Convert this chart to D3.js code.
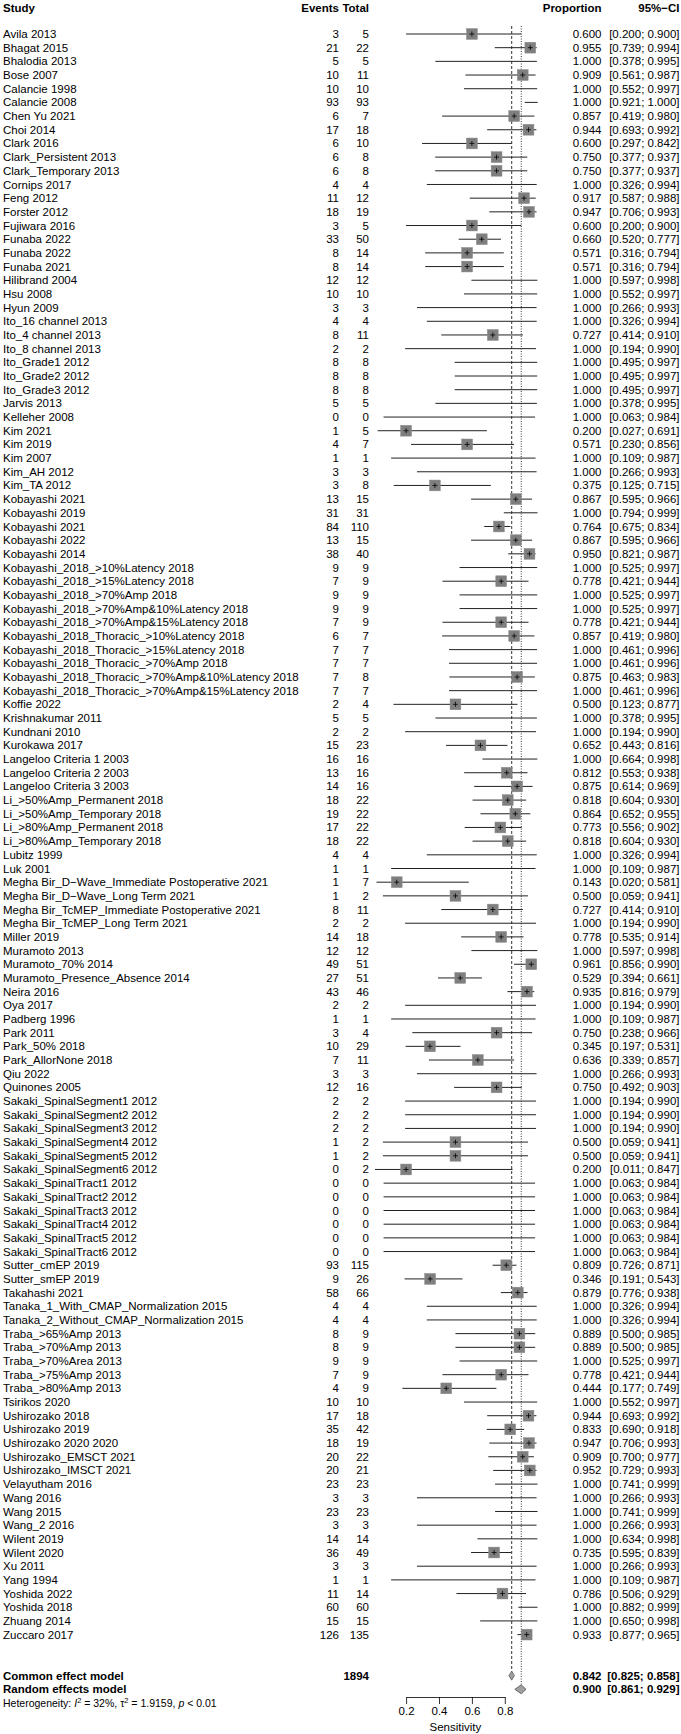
<!DOCTYPE html>
<html><head><meta charset="utf-8">
<script src="https://cdn.jsdelivr.net/npm/d3@7"></script>
<style>
body{margin:0;background:#fff;}
svg text{font-family:"Liberation Sans",Arial,Helvetica,sans-serif;}
</style></head><body>
<svg id="chart" width="681" height="1734"></svg>
<script>
const studies = ["Avila 2013","Bhagat 2015","Bhalodia 2013","Bose 2007","Calancie 1998","Calancie 2008","Chen Yu 2021","Choi 2014","Clark 2016","Clark_Persistent 2013","Clark_Temporary 2013","Cornips 2017","Feng 2012","Forster 2012","Fujiwara 2016","Funaba 2022","Funaba 2022","Funaba 2021","Hilibrand 2004","Hsu 2008","Hyun 2009","Ito_16 channel 2013","Ito_4 channel 2013","Ito_8 channel 2013","Ito_Grade1 2012","Ito_Grade2 2012","Ito_Grade3 2012","Jarvis 2013","Kelleher 2008","Kim 2021","Kim 2019","Kim 2007","Kim_AH 2012","Kim_TA 2012","Kobayashi 2021","Kobayashi 2019","Kobayashi 2021","Kobayashi 2022","Kobayashi 2014","Kobayashi_2018_>10%Latency 2018","Kobayashi_2018_>15%Latency 2018","Kobayashi_2018_>70%Amp 2018","Kobayashi_2018_>70%Amp&10%Latency 2018","Kobayashi_2018_>70%Amp&15%Latency 2018","Kobayashi_2018_Thoracic_>10%Latency 2018","Kobayashi_2018_Thoracic_>15%Latency 2018","Kobayashi_2018_Thoracic_>70%Amp 2018","Kobayashi_2018_Thoracic_>70%Amp&10%Latency 2018","Kobayashi_2018_Thoracic_>70%Amp&15%Latency 2018","Koffie 2022","Krishnakumar 2011","Kundnani 2010","Kurokawa 2017","Langeloo Criteria 1 2003","Langeloo Criteria 2 2003","Langeloo Criteria 3 2003","Li_>50%Amp_Permanent 2018","Li_>50%Amp_Temporary 2018","Li_>80%Amp_Permanent 2018","Li_>80%Amp_Temporary 2018","Lubitz 1999","Luk 2001","Megha Bir_D\u2212Wave_Immediate Postoperative 2021","Megha Bir_D\u2212Wave_Long Term 2021","Megha Bir_TcMEP_Immediate Postoperative 2021","Megha Bir_TcMEP_Long Term 2021","Miller 2019","Muramoto 2013","Muramoto_70% 2014","Muramoto_Presence_Absence 2014","Neira 2016","Oya 2017","Padberg 1996","Park 2011","Park_50% 2018","Park_AllorNone 2018","Qiu 2022","Quinones 2005","Sakaki_SpinalSegment1 2012","Sakaki_SpinalSegment2 2012","Sakaki_SpinalSegment3 2012","Sakaki_SpinalSegment4 2012","Sakaki_SpinalSegment5 2012","Sakaki_SpinalSegment6 2012","Sakaki_SpinalTract1 2012","Sakaki_SpinalTract2 2012","Sakaki_SpinalTract3 2012","Sakaki_SpinalTract4 2012","Sakaki_SpinalTract5 2012","Sakaki_SpinalTract6 2012","Sutter_cmEP 2019","Sutter_smEP 2019","Takahashi 2021","Tanaka_1_With_CMAP_Normalization 2015","Tanaka_2_Without_CMAP_Normalization 2015","Traba_>65%Amp 2013","Traba_>70%Amp 2013","Traba_>70%Area 2013","Traba_>75%Amp 2013","Traba_>80%Amp 2013","Tsirikos 2020","Ushirozako 2018","Ushirozako 2019","Ushirozako 2020 2020","Ushirozako_EMSCT 2021","Ushirozako_IMSCT 2021","Velayutham 2016","Wang 2016","Wang 2015","Wang_2 2016","Wilent 2019","Wilent 2020","Xu 2011","Yang 1994","Yoshida 2022","Yoshida 2018","Zhuang 2014","Zuccaro 2017"];
const events = [3,21,5,10,10,93,6,17,6,6,6,4,11,18,3,33,8,8,12,10,3,4,8,2,8,8,8,5,0,1,4,1,3,3,13,31,84,13,38,9,7,9,9,7,6,7,7,7,7,2,5,2,15,16,13,14,18,19,17,18,4,1,1,1,8,2,14,12,49,27,43,2,1,3,10,7,3,12,2,2,2,1,1,0,0,0,0,0,0,0,93,9,58,4,4,8,8,9,7,4,10,17,35,18,20,20,23,3,23,3,14,36,3,1,11,60,15,126];
const totals = [5,22,5,11,10,93,7,18,10,8,8,4,12,19,5,50,14,14,12,10,3,4,11,2,8,8,8,5,0,5,7,1,3,8,15,31,110,15,40,9,9,9,9,9,7,7,7,8,7,4,5,2,23,16,16,16,22,22,22,22,4,1,7,2,11,2,18,12,51,51,46,2,1,4,29,11,3,16,2,2,2,2,2,2,0,0,0,0,0,0,115,26,66,4,4,9,9,9,9,9,10,18,42,19,22,21,23,3,23,3,14,49,3,1,14,60,15,135];
const props = [0.600,0.955,1.000,0.909,1.000,1.000,0.857,0.944,0.600,0.750,0.750,1.000,0.917,0.947,0.600,0.660,0.571,0.571,1.000,1.000,1.000,1.000,0.727,1.000,1.000,1.000,1.000,1.000,1.000,0.200,0.571,1.000,1.000,0.375,0.867,1.000,0.764,0.867,0.950,1.000,0.778,1.000,1.000,0.778,0.857,1.000,1.000,0.875,1.000,0.500,1.000,1.000,0.652,1.000,0.812,0.875,0.818,0.864,0.773,0.818,1.000,1.000,0.143,0.500,0.727,1.000,0.778,1.000,0.961,0.529,0.935,1.000,1.000,0.750,0.345,0.636,1.000,0.750,1.000,1.000,1.000,0.500,0.500,0.200,1.000,1.000,1.000,1.000,1.000,1.000,0.809,0.346,0.879,1.000,1.000,0.889,0.889,1.000,0.778,0.444,1.000,0.944,0.833,0.947,0.909,0.952,1.000,1.000,1.000,1.000,1.000,0.735,1.000,1.000,0.786,1.000,1.000,0.933];
const lowers = [0.200,0.739,0.378,0.561,0.552,0.921,0.419,0.693,0.297,0.377,0.377,0.326,0.587,0.706,0.200,0.520,0.316,0.316,0.597,0.552,0.266,0.326,0.414,0.194,0.495,0.495,0.495,0.378,0.063,0.027,0.230,0.109,0.266,0.125,0.595,0.794,0.675,0.595,0.821,0.525,0.421,0.525,0.525,0.421,0.419,0.461,0.461,0.463,0.461,0.123,0.378,0.194,0.443,0.664,0.553,0.614,0.604,0.652,0.556,0.604,0.326,0.109,0.020,0.059,0.414,0.194,0.535,0.597,0.856,0.394,0.816,0.194,0.109,0.238,0.197,0.339,0.266,0.492,0.194,0.194,0.194,0.059,0.059,0.011,0.063,0.063,0.063,0.063,0.063,0.063,0.726,0.191,0.776,0.326,0.326,0.500,0.500,0.525,0.421,0.177,0.552,0.693,0.690,0.706,0.700,0.729,0.741,0.266,0.741,0.266,0.634,0.595,0.266,0.109,0.506,0.882,0.650,0.877];
const uppers = [0.900,0.994,0.995,0.987,0.997,1.000,0.980,0.992,0.842,0.937,0.937,0.994,0.988,0.993,0.900,0.777,0.794,0.794,0.998,0.997,0.993,0.994,0.910,0.990,0.997,0.997,0.997,0.995,0.984,0.691,0.856,0.987,0.993,0.715,0.966,0.999,0.834,0.966,0.987,0.997,0.944,0.997,0.997,0.944,0.980,0.996,0.996,0.983,0.996,0.877,0.995,0.990,0.816,0.998,0.938,0.969,0.930,0.955,0.902,0.930,0.994,0.987,0.581,0.941,0.910,0.990,0.914,0.998,0.990,0.661,0.979,0.990,0.987,0.966,0.531,0.857,0.993,0.903,0.990,0.990,0.990,0.941,0.941,0.847,0.984,0.984,0.984,0.984,0.984,0.984,0.871,0.543,0.938,0.994,0.994,0.985,0.985,0.997,0.944,0.749,0.997,0.992,0.918,0.993,0.977,0.993,0.999,0.993,0.999,0.993,0.998,0.839,0.993,0.987,0.929,0.999,0.998,0.965];

const modelNames = ["Common effect model","Random effects model"];
const modelEst = [0.842,0.900];
const modelLow = [0.825,0.861];
const modelUp = [0.858,0.929];
const totalEvents = 1894;
const axisTicks = [0.2,0.4,0.6,0.8];
const headers = ["Study","Events","Total","Proportion","95%\u2212CI"];
const xLabel = "Sensitivity";

const svg = d3.select("#chart");
const n = studies.length;
const rowY = d3.scalePoint().domain(d3.range(n)).range([34, 1634.6]);
const pitch = rowY.step();
const x = d3.scaleLinear().domain([0,1]).range([373.2, 537.7]);
const fs = 11.5;

const colStudy = 3, colEvents = 339, colTotal = 369, colProp = 601.5, colCI = 679.5;
const fmt3 = d3.format(".3f");

// headers
const hY = 8;
const hdr = svg.append("g").attr("font-weight","bold").attr("font-size",fs);
hdr.append("text").attr("x",colStudy).attr("y",hY).attr("dy","0.35em").text(headers[0]);
hdr.append("text").attr("x",colEvents).attr("y",hY).attr("dy","0.35em").attr("text-anchor","end").text(headers[1]);
hdr.append("text").attr("x",colTotal).attr("y",hY).attr("dy","0.35em").attr("text-anchor","end").text(headers[2]);
hdr.append("text").attr("x",colProp).attr("y",hY).attr("dy","0.35em").attr("text-anchor","end").text(headers[3]);
hdr.append("text").attr("x",colCI).attr("y",hY).attr("dy","0.35em").attr("text-anchor","end").text(headers[4]);

const yCommon = rowY(n-1) + 3*pitch;
const yRandom = yCommon + pitch;
const yHet = yRandom + pitch;

// reference lines
svg.append("line").attr("x1",x(modelEst[0])).attr("x2",x(modelEst[0]))
  .attr("y1",26).attr("y2",yCommon-4).attr("stroke","#000").attr("stroke-width",0.8).attr("stroke-dasharray","3,2");
svg.append("line").attr("x1",x(modelEst[1])).attr("x2",x(modelEst[1]))
  .attr("y1",26).attr("y2",yRandom-5).attr("stroke","#000").attr("stroke-width",0.8).attr("stroke-dasharray","1,1.5");

const rows = svg.append("g").selectAll("g").data(d3.range(n)).join("g")
  .attr("transform", i => `translate(0,${rowY(i)})`);
rows.append("text").attr("x",colStudy).attr("dy","0.35em").attr("font-size",fs).text(i=>studies[i]);
rows.append("text").attr("x",colEvents).attr("dy","0.35em").attr("font-size",fs).attr("text-anchor","end").text(i=>events[i]);
rows.append("text").attr("x",colTotal).attr("dy","0.35em").attr("font-size",fs).attr("text-anchor","end").text(i=>totals[i]);
rows.append("text").attr("x",colProp).attr("dy","0.35em").attr("font-size",fs).attr("text-anchor","end").text(i=>fmt3(props[i]));
rows.append("text").attr("x",colCI).attr("dy","0.35em").attr("font-size",fs).attr("text-anchor","end")
  .text(i=>`[${fmt3(lowers[i])}; ${fmt3(uppers[i])}]`);
rows.append("line").attr("x1",i=>x(lowers[i])).attr("x2",i=>x(uppers[i])).attr("y1",0).attr("y2",0)
  .attr("stroke","#222").attr("stroke-width",1);
const bs = 10.8;
const withBox = rows.filter(i => props[i] < 1);
withBox.append("rect").attr("x",i=>x(props[i])-bs/2).attr("y",-bs/2).attr("width",bs).attr("height",bs)
  .attr("fill","#7f7f7f").attr("stroke","#8a8a8a").attr("stroke-width",0.5);
withBox.append("line").attr("x1",i=>x(props[i])).attr("x2",i=>x(props[i])).attr("y1",-2.5).attr("y2",2.5)
  .attr("stroke","#000").attr("stroke-width",0.8);
withBox.append("line").attr("x1",i=>x(props[i])-2.5).attr("x2",i=>x(props[i])+2.5).attr("y1",0).attr("y2",0)
  .attr("stroke","#000").attr("stroke-width",0.8);

// models
const my = [yCommon, yRandom];
const mg = svg.append("g").selectAll("g").data([0,1]).join("g").attr("transform",i=>`translate(0,${my[i]})`);
mg.append("text").attr("x",colStudy).attr("dy","0.35em").attr("font-size",fs).attr("font-weight","bold").text(i=>modelNames[i]);
mg.append("text").attr("x",colProp).attr("dy","0.35em").attr("font-size",fs).attr("font-weight","bold").attr("text-anchor","end").text(i=>fmt3(modelEst[i]));
mg.append("text").attr("x",colCI).attr("dy","0.35em").attr("font-size",fs).attr("font-weight","bold").attr("text-anchor","end")
  .text(i=>`[${fmt3(modelLow[i])}; ${fmt3(modelUp[i])}]`);
const dh = 4.5;
mg.append("path").attr("d",i=>`M${x(modelLow[i])},0 L${x(modelEst[i])},${-dh} L${x(modelUp[i])},0 L${x(modelEst[i])},${dh} Z`)
  .attr("fill","#a0a0a0").attr("stroke","#555").attr("stroke-width",0.8);
svg.append("text").attr("x",colTotal).attr("y",yCommon).attr("dy","0.35em").attr("font-size",fs).attr("font-weight","bold")
  .attr("text-anchor","end").text(totalEvents);

// heterogeneity
const het = svg.append("text").attr("x",colStudy).attr("y",yHet).attr("dy","0.35em").attr("font-size",10.5);
het.append("tspan").text("Heterogeneity: ");
het.append("tspan").attr("font-style","italic").text("I");
het.append("tspan").attr("font-size",7.5).attr("dy","-0.5em").text("2");
het.append("tspan").attr("dy","0.35em").text(" = 32%, \u03c4");
het.append("tspan").attr("font-size",7.5).attr("dy","-0.5em").text("2");
het.append("tspan").attr("dy","0.35em").text(" = 1.9159, ");
het.append("tspan").attr("font-style","italic").text("p");
het.append("tspan").text(" < 0.01");

// axis
const axScale = d3.scaleLinear().domain([axisTicks[0], axisTicks[axisTicks.length-1]])
  .range([x(axisTicks[0]), x(axisTicks[axisTicks.length-1])]);
const axY = 1697;
const ax = svg.append("g").attr("transform",`translate(0,${axY})`)
  .call(d3.axisBottom(axScale).tickValues(axisTicks).tickSize(7).tickSizeOuter(0).tickPadding(3).tickFormat(d3.format(".1f")));
ax.selectAll("text").attr("font-size",fs).attr("font-family","Liberation Sans, Arial, sans-serif").attr("fill","#000");
ax.selectAll("line,path").attr("stroke","#000").attr("stroke-width",0.8);
svg.append("text").attr("x",x(0.5)).attr("y",1727).attr("dy","0.35em").attr("text-anchor","middle").attr("font-size",fs).text(xLabel);
</script>
</body></html>
